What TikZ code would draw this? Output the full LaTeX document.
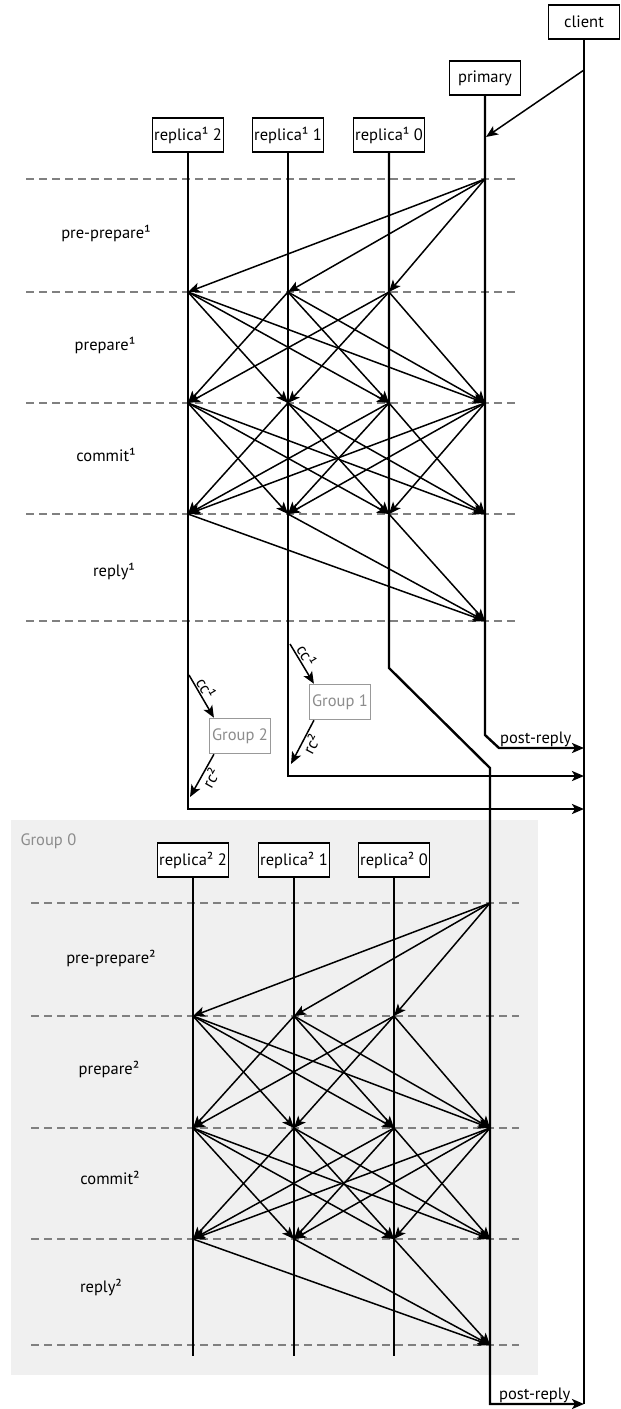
\documentclass[tikz,border=0pt]{standalone}
\usepackage{fontspec}
\setmainfont{PT Sans}
\usetikzlibrary{arrows.meta,math}

\begin{document}
\begin{tikzpicture}
[x=1pt,y=-1pt,>={Stealth[length=12pt,width=10pt,inset=3pt]},
 font=\fontsize{16.5}{19}\selectfont,
 actor/.style={draw,line width=1.8pt,fill=white,minimum width=71pt,minimum height=34pt,inner sep=1pt},
 group/.style={draw=black!40,line width=1.5pt,fill=white,text=black!45,minimum width=61pt,minimum height=35pt,inner sep=1pt},
 life/.style={line width=2.4pt},
 msg/.style={->,line width=1.5pt},
 phase/.style={draw=black!50,line width=1.8pt,dash pattern=on 8pt off 5pt},
 tag/.style={inner sep=1pt},]

\useasboundingbox (0,0) rectangle (621,1409);

%Group 0 background
\fill[black!6] (11,820) rectangle (538,1375);
\node[text=black!45,anchor=west] (g0) at (17,841) {Group 0};

%Lifeline positions at each phase border
\foreach \i/\x in {1/188,2/288,3/389,4/485}
  \foreach \k/\y in {0/179,1/292,2/403,3/514,4/621}
    \coordinate (u\i-\k) at (\x,\y);
\foreach \i/\x in {1/193,2/294,3/394,4/490}
  \foreach \k/\y in {0/903,1/1016,2/1128,3/1239,4/1345}
    \coordinate (v\i-\k) at (\x,\y);

%Phase borders
\foreach \y in {179,292,403,514,621} \draw[phase] (26,\y) -- (515,\y);
\foreach \y in {903,1016,1128,1239,1345} \draw[phase] (31,\y) -- (519,\y);

%Phase names
\node (pp1) at (106,233) {pre-prepare¹};
\node (pr1) at (105,345) {prepare¹};
\node (cm1) at (106,455) {commit¹};
\node (rp1) at (114,572) {reply¹};
\node (pp2) at (111,958) {pre-prepare²};
\node (pr2) at (109,1069) {prepare²};
\node (cm2) at (110,1178) {commit²};
\node (rp2) at (101,1288) {reply²};

%Boxes
\node[actor] (client) at (584,22) {client};
\node[actor] (primary) at (485,78) {primary};
\node[actor] (r12) at (188,135) {replica¹ 2};
\node[actor] (r11) at (288,135) {replica¹ 1};
\node[actor] (r10) at (389,135) {replica¹ 0};
\node[actor] (r22) at (193,860) {replica² 2};
\node[actor] (r21) at (294,860) {replica² 1};
\node[actor] (r20) at (394,860) {replica² 0};

%Turning points
\coordinate (k1) at (584,748);
\coordinate (k2) at (584,776);
\coordinate (k3) at (584,809);
\coordinate (k4) at (584,1404);
\coordinate (p-down) at (485,735);
\coordinate (p-out) at (499,748);
\coordinate (a-down) at (188,809);
\coordinate (b-down) at (288,776);
\coordinate (c-bend) at (389,668);
\coordinate (c-join) at (490,768);
\coordinate (c-down) at (490,1404);
\coordinate (e1) at (193,1356);
\coordinate (e2) at (294,1356);
\coordinate (e3) at (394,1356);

%Lifelines
\draw[life] (client) -- (k4);
\draw[life,->] (primary) -- (p-down) -- (p-out) -- (k1);
\draw[life,->] (r12) -- (a-down) -- (k3);
\draw[life,->] (r11) -- (b-down) -- (k2);
\draw[life,->] (r10) -- (c-bend) -- (c-join) -- (c-down) -- (k4);
\draw[life] (r22) -- (e1);
\draw[life] (r21) -- (e2);
\draw[life] (r20) -- (e3);

\node[tag,anchor=south west] (post1) at (p-out) {post-reply};
\node[tag,anchor=south west,xshift=8pt] (post2) at (c-down) {post-reply};

%Request from the client
\coordinate (req) at (584,70);
\coordinate (req-in) at (486,137);
\draw[msg] (req) -- (req-in);

%Cross-group calls
\node[group] (g2) at (240,736) {Group 2};
\node[group] (g1) at (340,702) {Group 1};
\coordinate (cc-a) at (189,675);
\coordinate (rc-a) at (190,797);
\coordinate (cc-b) at (290,644);
\coordinate (rc-b) at (291,764);
\draw[msg] (cc-a) -- node[tag,sloped,above,pos=0.4] {cc¹} (g2.145);
\draw[msg] (g2.215) -- node[tag,sloped,below,pos=0.45] {rc²} (rc-a);
\draw[msg] (cc-b) -- node[tag,sloped,above,pos=0.4] {cc¹} (g1.145);
\draw[msg] (g1.215) -- node[tag,sloped,below,pos=0.45] {rc²} (rc-b);

%Messages of both groups
\foreach \g in {u,v}{
  % pre-prepare
  \foreach \j in {1,2,3} \draw[msg] (\g4-0) -- (\g\j-1);
  % prepare
  \foreach \i in {1,2,3} \foreach \j in {1,...,4}
    {\ifnum\i=\j\else\draw[msg] (\g\i-1) -- (\g\j-2);\fi}
  % commit
  \foreach \i in {1,...,4} \foreach \j in {1,...,4}
    {\ifnum\i=\j\else\draw[msg] (\g\i-2) -- (\g\j-3);\fi}
  % reply
  \foreach \i in {1,2,3} \draw[msg] (\g\i-3) -- (\g4-4);
}

\end{tikzpicture}
\end{document}
